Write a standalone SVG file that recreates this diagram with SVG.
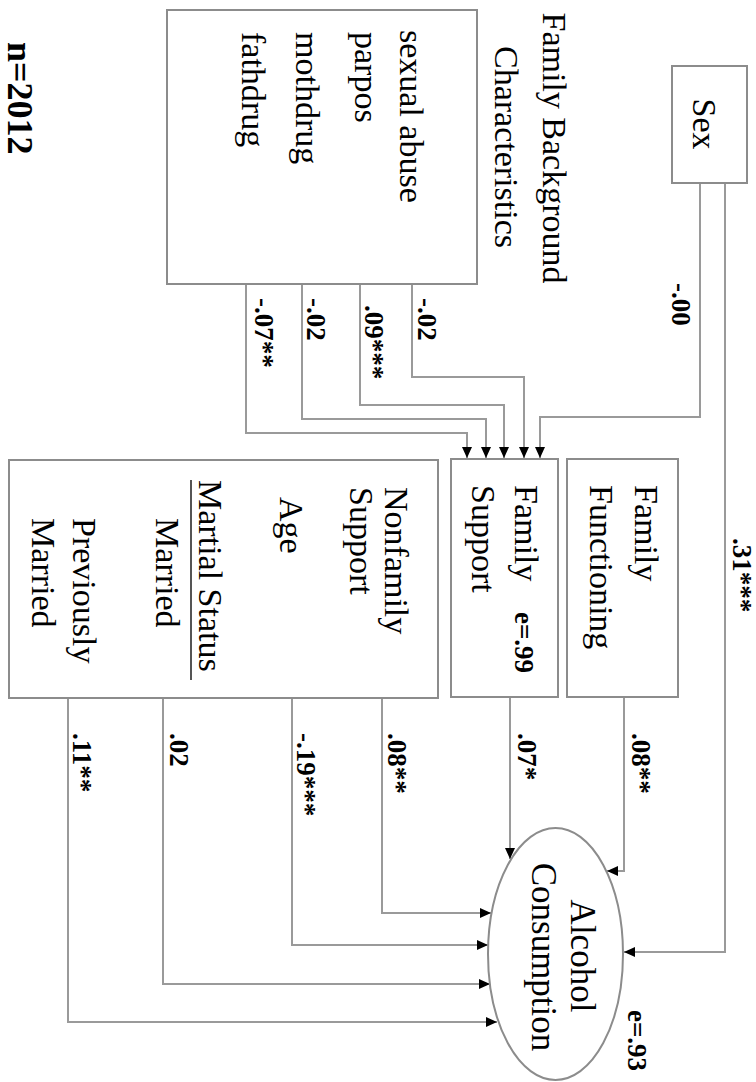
<svg xmlns="http://www.w3.org/2000/svg" width="756" height="1082" viewBox="0 0 756 1082">
<style>
.box{fill:#fff;stroke:#8c8c8c;stroke-width:2}
.t{font-family:"Liberation Serif","Times New Roman",serif;font-size:34px;fill:#000}
.m{text-anchor:middle}
.c{font-family:"Liberation Serif","Times New Roman",serif;font-size:27px;font-weight:bold;fill:#000}
.e{fill:none;stroke:#9a9a9a;stroke-width:2}
.a{marker-end:url(#ah)}
</style>
<defs>
<marker id="ah" markerWidth="11" markerHeight="10" refX="11" refY="5" orient="auto" markerUnits="userSpaceOnUse">
<path d="M0,0 L11,5 L0,10 z" fill="#000"/>
</marker>
</defs>
<rect x="0" y="0" width="756" height="1082" fill="#fff"/>

<g id="connectors">
<path class="e a" d="M700,183 V417 H540 V458"/>
<path class="e a" d="M725,183 V952 H624"/>
<path class="e a" d="M412,284 V377 H524 V458"/>
<path class="e a" d="M360,284 V405 H504 V458"/>
<path class="e a" d="M302,284 V419 H486 V458"/>
<path class="e a" d="M246,284 V433 H467 V458"/>
<path class="e a" d="M624,697 V871 H607"/>
<path class="e a" d="M510,697 V859"/>
<path class="e a" d="M382,698 V913 H491"/>
<path class="e a" d="M292,698 V945 H488"/>
<path class="e a" d="M163,698 V984 H490"/>
<path class="e a" d="M68,698 V1022 H497"/>
<text class="c" transform="rotate(90 733 538)" x="733" y="538">.31***</text>
<text class="c" transform="rotate(90 672 283)" x="672" y="283">-.00</text>
<text class="c" transform="rotate(90 418 298)" x="418" y="298">-.02</text>
<text class="c" transform="rotate(90 365 305)" x="365" y="305">.09***</text>
<text class="c" transform="rotate(90 307 298)" x="307" y="298">-.02</text>
<text class="c" transform="rotate(90 255 298)" x="255" y="298">-.07**</text>
<text class="c" transform="rotate(90 632 733)" x="632" y="733">.08**</text>
<text class="c" transform="rotate(90 518 733)" x="518" y="733">.07*</text>
<text class="c" transform="rotate(90 388 733)" x="388" y="733">.08**</text>
<text class="c" transform="rotate(90 297 733)" x="297" y="733">-.19***</text>
<text class="c" transform="rotate(90 170 733)" x="170" y="733">.02</text>
<text class="c" transform="rotate(90 73 733)" x="73" y="733">.11**</text>
</g>

<g id="sex">
<rect class="box" x="672" y="66" width="75" height="117"/>
<text class="t m" transform="rotate(90 693 124)" x="693" y="124">Sex</text>
</g>

<g id="family-background">
<text class="t m" transform="rotate(90 543 148)" x="543" y="148">Family Background</text>
<text class="t m" transform="rotate(90 495 147)" x="495" y="147">Characteristics</text>
<rect class="box" x="167" y="10" width="310" height="274"/>
<text class="t" transform="rotate(90 400 30)" x="400" y="30">sexual abuse</text>
<text class="t" transform="rotate(90 355 32)" x="355" y="32">parpos</text>
<text class="t" transform="rotate(90 296 32)" x="296" y="32">mothdrug</text>
<text class="t" transform="rotate(90 242 32)" x="242" y="32">fathdrug</text>
</g>

<g id="family-functioning">
<rect class="box" x="567" y="459" width="111" height="238"/>
<text class="t" transform="rotate(90 635 485)" x="635" y="485">Family</text>
<text class="t" transform="rotate(90 590 485)" x="590" y="485">Functioning</text>
</g>

<g id="family-support">
<rect class="box" x="451" y="459" width="107" height="238"/>
<text class="t" transform="rotate(90 515 485)" x="515" y="485">Family</text>
<text class="t" transform="rotate(90 472 485)" x="472" y="485">Support</text>
<text class="c" transform="rotate(90 515 612)" x="515" y="612">e=.99</text>
</g>

<g id="covariates">
<rect class="box" x="9" y="460" width="429" height="238"/>
<text class="t" transform="rotate(90 385 487)" x="385" y="487">Nonfamily</text>
<text class="t" transform="rotate(90 350 487)" x="350" y="487">Support</text>
<text class="t" transform="rotate(90 280 497)" x="280" y="497">Age</text>
<text class="t" transform="rotate(90 199 480)" x="199" y="480">Martial Status</text>
<line x1="191" y1="480" x2="191" y2="680" stroke="#555" stroke-width="2"/>
<text class="t" transform="rotate(90 156 518)" x="156" y="518">Married</text>
<text class="t" transform="rotate(90 73 518)" x="73" y="518">Previously</text>
<text class="t" transform="rotate(90 32 518)" x="32" y="518">Married</text>
</g>

<g id="alcohol">
<ellipse class="box" cx="555.5" cy="954" rx="67.5" ry="126"/>
<text class="t m" style="font-size:35px" transform="rotate(90 571 956)" x="571" y="956">Alcohol</text>
<text class="t m" style="font-size:35px" transform="rotate(90 532 957)" x="532" y="957">Consumption</text>
<text class="c" transform="rotate(90 628 1010)" x="628" y="1010">e=.93</text>
</g>

<g id="sample">
<text class="c" style="font-size:36px" transform="rotate(90 8 42)" x="8" y="42">n=2012</text>
</g>
</svg>
